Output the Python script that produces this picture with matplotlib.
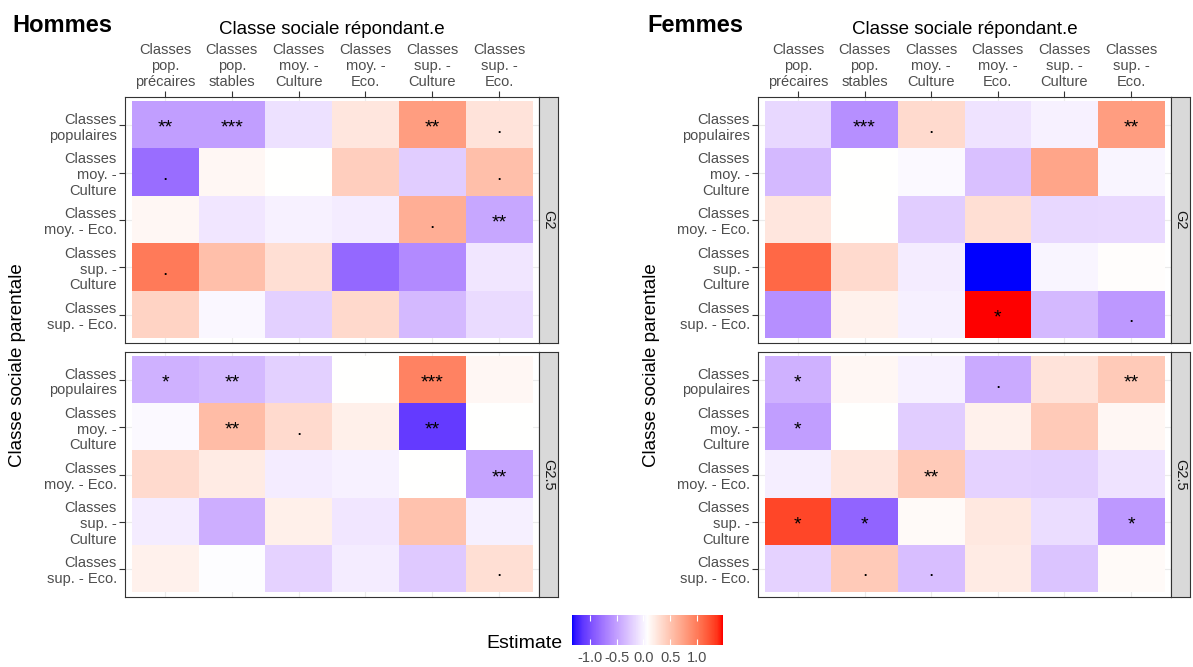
import matplotlib
matplotlib.use("Agg")
import matplotlib.pyplot as plt
import numpy as np
from matplotlib.colors import ListedColormap, Normalize

plt.rcParams['font.family'] = ['Liberation Sans', 'DejaVu Sans']

# --- données ---------------------------------------------------------------
cols = ["Classes\npop.\nprécaires", "Classes\npop.\nstables", "Classes\nmoy. -\nCulture",
        "Classes\nmoy. -\nEco.", "Classes\nsup. -\nCulture", "Classes\nsup. -\nEco."]
rows = ["Classes\npopulaires", "Classes\nmoy. -\nCulture", "Classes\nmoy. - Eco.",
        "Classes\nsup. -\nCulture", "Classes\nsup. - Eco."]
facets = ["G2", "G2.5"]

hommes_g2 = [[-0.51, -0.51, -0.10, 0.25, 0.78, 0.27],
             [-0.81, 0.13, 0.08, 0.43, -0.22, 0.54],
             [0.13, -0.07, 0.00, -0.04, 0.66, -0.45],
             [1.01, 0.54, 0.31, -0.84, -0.63, -0.07],
             [0.39, 0.03, -0.20, 0.35, -0.34, -0.13]]
hommes_g25 = [[-0.39, -0.34, -0.20, 0.07, 0.96, 0.13],
              [0.04, 0.56, 0.34, 0.19, -1.10, 0.08],
              [0.34, 0.22, -0.04, 0.00, 0.07, -0.48],
              [-0.03, -0.41, 0.19, -0.07, 0.52, -0.01],
              [0.17, 0.06, -0.19, -0.04, -0.25, 0.31]]
femmes_g2 = [[-0.16, -0.60, 0.34, -0.09, 0.00, 0.78],
             [-0.34, 0.08, 0.04, -0.30, 0.72, 0.02],
             [0.25, 0.07, -0.22, 0.31, -0.16, -0.15],
             [1.12, 0.34, -0.04, -1.33, 0.02, 0.09],
             [-0.60, 0.17, -0.01, 1.48, -0.34, -0.54]]
femmes_g25 = [[-0.39, 0.13, 0.00, -0.43, 0.27, 0.46],
              [-0.51, 0.08, -0.22, 0.17, 0.46, 0.13],
              [-0.02, 0.25, 0.46, -0.19, -0.20, -0.09],
              [1.30, -0.86, 0.11, 0.24, -0.12, -0.54],
              [-0.19, 0.46, -0.31, 0.22, -0.28, 0.11]]

sig_hommes_g2 = [["**", "***", "", "", "**", "."],
                 [".", "", "", "", "", "."],
                 ["", "", "", "", ".", "**"],
                 [".", "", "", "", "", ""],
                 ["", "", "", "", "", ""]]
sig_hommes_g25 = [["*", "**", "", "", "***", ""],
                  ["", "**", ".", "", "**", ""],
                  ["", "", "", "", "", "**"],
                  ["", "", "", "", "", ""],
                  ["", "", "", "", "", "."]]
sig_femmes_g2 = [["", "***", ".", "", "", "**"],
                 ["", "", "", "", "", ""],
                 ["", "", "", "", "", ""],
                 ["", "", "", "", "", ""],
                 ["", "", "", "*", "", "."]]
sig_femmes_g25 = [["*", "", "", ".", "", "**"],
                  ["*", "", "", "", "", ""],
                  ["", "", "**", "", "", ""],
                  ["*", "*", "", "", "", "*"],
                  ["", ".", ".", "", "", ""]]

cbar_ticks = [-1.0, -0.5, 0.0, 0.5, 1.0]


# --- palette bleu / blanc / rouge (interpolation Lab, comme ggplot) ---------
def lab_to_rgb(lab):
    L, a, b = lab[:, 0], lab[:, 1], lab[:, 2]
    fy = (L + 16) / 116
    fx = fy + a / 500
    fz = fy - b / 200
    def finv(t):
        return np.where(t > 6 / 29, t ** 3, 3 * (6 / 29) ** 2 * (t - 4 / 29))
    X = 0.95047 * finv(fx)
    Y = 1.0 * finv(fy)
    Z = 1.08883 * finv(fz)
    r = 3.2406 * X - 1.5372 * Y - 0.4986 * Z
    g = -0.9689 * X + 1.8758 * Y + 0.0415 * Z
    bb = 0.0557 * X - 0.2040 * Y + 1.0570 * Z
    rgb = np.stack([r, g, bb], axis=1)
    rgb = np.where(rgb <= 0.0031308, 12.92 * rgb, 1.055 * np.clip(rgb, 0, None) ** (1 / 2.4) - 0.055)
    return np.clip(rgb, 0, 1)


blue_lab = np.array([32.30, 79.19, -107.86])
white_lab = np.array([100.0, 0.0, 0.0])
red_lab = np.array([53.24, 80.09, 67.20])
t = np.linspace(0, 1, 128)[:, None]
lo = blue_lab + (white_lab - blue_lab) * t
hi = white_lab + (red_lab - white_lab) * t
cmap = ListedColormap(lab_to_rgb(np.vstack([lo, hi[1:]])))

# l'échelle couvre l'étendue des données (blanc au milieu de l'étendue)
all_vals = np.array([hommes_g2, hommes_g25, femmes_g2, femmes_g25])
vmin, vmax = all_vals.min(), all_vals.max()
norm = Normalize(vmin=vmin, vmax=vmax)

W, H = 1193, 667
fig = plt.figure(figsize=(W / 100, H / 100), dpi=100)

TICK_FS = 10.5
GREY30 = '#4D4D4D'
GREY20 = '#333333'


def box(x0, y0, x1, y1):
    return [x0 / W, 1 - y1 / H, (x1 - x0) / W, (y1 - y0) / H]


def draw_facet(rect, strip_rect, data, sig, label, top_labels):
    ax = fig.add_axes(box(*rect))
    ax.imshow(np.array(data), cmap=cmap, norm=norm, aspect='auto',
              extent=(-0.5, 5.5, 4.5, -0.5), interpolation='nearest', zorder=2)
    for i in range(len(rows)):
        for j in range(len(cols)):
            if sig[i][j]:
                ax.text(j, i + 0.16, sig[i][j], ha='center', va='baseline',
                        fontsize=14, zorder=3)
    ax.set_xlim(-0.6, 5.6)
    ax.set_ylim(4.6, -0.6)
    ax.set_xticks(range(len(cols)))
    ax.set_yticks(range(len(rows)))
    ax.set_yticklabels(rows, fontsize=TICK_FS, color=GREY30, ha='right', linespacing=1.15)
    ax.xaxis.set_ticks_position('top')
    if top_labels:
        ax.set_xticklabels(cols, fontsize=TICK_FS, color=GREY30, linespacing=1.15)
        ax.tick_params(axis='x', length=4, color=GREY20, pad=2)
    else:
        ax.tick_params(axis='x', length=0, labeltop=False)
    ax.tick_params(axis='y', length=4, color=GREY20, pad=2)
    ax.grid(True, color='#EBEBEB', linewidth=0.8)
    ax.set_axisbelow(True)
    for sp in ax.spines.values():
        sp.set_color(GREY20)
        sp.set_linewidth(0.8)
    st = fig.add_axes(box(*strip_rect))
    st.set_facecolor('#D9D9D9')
    st.set_xticks([])
    st.set_yticks([])
    for sp in st.spines.values():
        sp.set_color(GREY20)
        sp.set_linewidth(0.8)
    st.text(0.5, 0.5, label, rotation=-90, ha='center', va='center',
            fontsize=TICK_FS, color='#1A1A1A', transform=st.transAxes)
    return ax


panels = [
    ("Hommes", 125, 539, hommes_g2, hommes_g25, sig_hommes_g2, sig_hommes_g25, 12, 18),
    ("Femmes", 758, 1171, femmes_g2, femmes_g25, sig_femmes_g2, sig_femmes_g25, 647, 652),
]

for name, x0, x1, d2, d25, s2, s25, title_x, ylab_x in panels:
    draw_facet((x0, 97, x1, 343), (x1, 97, x1 + 19, 343), d2, s2, facets[0], True)
    draw_facet((x0, 352, x1, 597), (x1, 352, x1 + 19, 597), d25, s25, facets[1], False)
    fig.text(title_x / W, 1 - 25 / H, name, fontsize=17, fontweight='bold',
             ha='left', va='center')
    fig.text((x0 + x1) / 2 / W, 1 - 30 / H, "Classe sociale répondant.e",
             fontsize=13.5, ha='center', va='center')
    fig.text(ylab_x / W, 1 - 365 / H, "Classe sociale parentale", fontsize=13.5,
             rotation=90, ha='center', va='center')

# légende (barre de couleur limitée à l'étendue des données)
cax = fig.add_axes(box(572, 615, 723, 645))
grad = np.linspace(vmin, vmax, 256)[None, :]
cax.imshow(grad, cmap=cmap, norm=norm, aspect='auto', extent=(vmin, vmax, 0, 1))
cax.set_xlim(vmin, vmax)
cax.set_yticks([])
cax.set_xticks(cbar_ticks)
cax.set_xticklabels([f"{v:.1f}" for v in cbar_ticks], fontsize=TICK_FS, color=GREY30)
cax.xaxis.set_ticks_position('both')
cax.tick_params(axis='x', direction='in', color='white', length=4, width=0.8, pad=4,
                labeltop=False, labelbottom=True)
for sp in cax.spines.values():
    sp.set_visible(False)
fig.text(563 / W, 1 - 644 / H, "Estimate", fontsize=14, ha='right', va='center')

fig.savefig("out.png", dpi=100)
